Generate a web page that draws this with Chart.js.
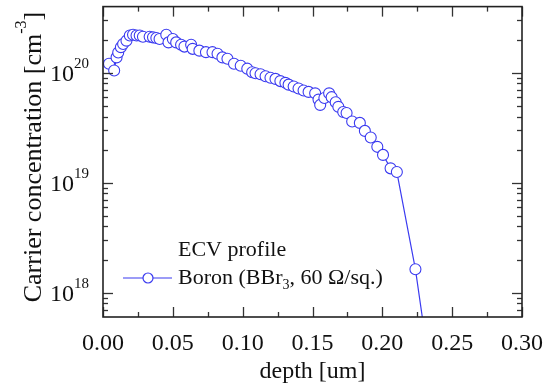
<!DOCTYPE html>
<html><head><meta charset="utf-8">
<script src="https://cdn.jsdelivr.net/npm/chart.js@4/dist/chart.umd.min.js"></script>
<style>html,body{margin:0;padding:0;background:#fff;}#wrap{width:555px;height:387px;}</style>
</head><body><div id="wrap"><canvas id="c" width="555" height="387"></canvas></div>
<script>
// depth [um]
const depth = [0.0043,0.0080,0.0097,0.0109,0.0128,0.0144,0.0168,0.0192,0.0215,0.0240,0.0263,0.0286,0.0334,0.0358,0.0382,0.0405,0.0453,0.0469,0.0500,0.0524,0.0559,0.0583,0.0631,0.0642,0.0690,0.0737,0.0784,0.0820,0.0855,0.0891,0.0938,0.0986,0.1033,0.1068,0.1092,0.1128,0.1164,0.1199,0.1235,0.1270,0.1306,0.1329,0.1365,0.1400,0.1436,0.1472,0.1519,0.1543,0.1555,0.1585,0.1619,0.1637,0.1666,0.1685,0.1720,0.1744,0.1784,0.1839,0.1875,0.1917,0.1964,0.2005,0.2059,0.2104,0.2237,0.2320];
// carrier concentration [cm^-3]
const conc = [1.21e20,1.05e20,1.38e20,1.53e20,1.71e20,1.83e20,1.96e20,2.18e20,2.22e20,2.18e20,2.18e20,2.13e20,2.13e20,2.10e20,2.07e20,2.03e20,2.22e20,1.89e20,2.03e20,1.89e20,1.80e20,1.73e20,1.80e20,1.65e20,1.59e20,1.54e20,1.54e20,1.49e20,1.38e20,1.34e20,1.21e20,1.16e20,1.09e20,1.01e20,9.9e19,9.7e19,9.3e19,9.0e19,8.8e19,8.4e19,8.1e19,7.8e19,7.5e19,7.2e19,6.9e19,6.7e19,6.5e19,5.7e19,5.1e19,5.9e19,6.5e19,6.0e19,5.4e19,4.9e19,4.4e19,4.3e19,3.6e19,3.5e19,2.96e19,2.58e19,2.12e19,1.79e19,1.35e19,1.25e19,1.63e18,3.0e17];
const xMajorTicks = [0,0.05,0.10,0.15,0.20,0.25,0.30];
const xMinorTicks = [0.025,0.075,0.125,0.175,0.225,0.275];
const yDecades = [1e18,1e19,1e20];
const yDecadeExp = ['18','19','20'];
const yMinorMult = [2,3,4,5,6,7,8,9];
const legendTitle = 'ECV profile';
const seriesName = ['Boron (BBr', '3', ', 60 \u03A9/sq.)'];
const xTitle = 'depth [um]';
const yTitle = ['Carrier concentration [cm', '-3', ']'];

const FONT = '"Liberation Serif", "Times New Roman", serif';
const BLUE = '#3b3bf0';
const points = depth.map((d,i)=>({x:d,y:conc[i]}));

const decor = {
  id:'decor',
  afterDraw(chart){
    const {ctx, chartArea:a, scales:{x,y}} = chart;
    ctx.save();
    const seg=(x1,y1,x2,y2)=>{ctx.beginPath();ctx.moveTo(x1,y1);ctx.lineTo(x2,y2);ctx.stroke();};
    ctx.strokeStyle='#333'; ctx.lineWidth=1.3;
    xMajorTicks.forEach(v=>{const p=Math.round(x.getPixelForValue(v))+0.5; seg(p,a.bottom,p,a.bottom-10); seg(p,a.top,p,a.top+10);});
    xMinorTicks.forEach(v=>{const p=Math.round(x.getPixelForValue(v))+0.5; seg(p,a.bottom,p,a.bottom-5); seg(p,a.top,p,a.top+5);});
    const yMin=y.min, yMax=y.max;
    [1e17].concat(yDecades).forEach(dv=>{
      if(dv>=yMin && dv<=yMax){const p=Math.round(y.getPixelForValue(dv))+0.5; seg(a.left,p,a.left+10,p); seg(a.right,p,a.right-10,p);}
      yMinorMult.forEach(m=>{const v=dv*m; if(v>yMin && v<yMax){const p=Math.round(y.getPixelForValue(v))+0.5; seg(a.left,p,a.left+5,p); seg(a.right,p,a.right-5,p);}});
    });
    ctx.strokeStyle='#222'; ctx.lineWidth=1.6;
    ctx.strokeRect(a.left, a.top, a.right-a.left, a.bottom-a.top);
    // y tick labels
    ctx.fillStyle='#111'; ctx.textBaseline='middle';
    yDecades.forEach((dv,i)=>{
      const p=y.getPixelForValue(dv);
      ctx.font='15px '+FONT; const ew=ctx.measureText(yDecadeExp[i]).width;
      const right=89;
      ctx.textAlign='left';
      ctx.fillText(yDecadeExp[i], right-ew, p-9);
      ctx.font='24px '+FONT; ctx.textAlign='right';
      ctx.fillText('10', right-ew, p+2);
    });
    // y title
    ctx.save();
    ctx.translate(34, 157); ctx.rotate(-Math.PI/2);
    ctx.font='26px '+FONT;
    const w1=ctx.measureText(yTitle[0]).width;
    ctx.font='16px '+FONT; const w2=ctx.measureText(yTitle[1]).width;
    ctx.font='26px '+FONT; const w3=ctx.measureText(yTitle[2]).width;
    let sx=-(w1+w2+w3)/2;
    ctx.textAlign='left'; ctx.textBaseline='middle';
    ctx.fillText(yTitle[0], sx, 0); sx+=w1;
    ctx.font='16px '+FONT; ctx.fillText(yTitle[1], sx, -12); sx+=w2;
    ctx.font='26px '+FONT; ctx.fillText(yTitle[2], sx, 0);
    ctx.restore();
    // legend
    ctx.font='22px '+FONT; ctx.textAlign='left'; ctx.textBaseline='middle';
    ctx.fillText(legendTitle, 178, 250);
    ctx.strokeStyle=BLUE; ctx.lineWidth=1.2;
    seg(123,278,172,278);
    ctx.beginPath(); ctx.arc(148,278,5,0,Math.PI*2); ctx.fillStyle='#fff'; ctx.fill(); ctx.stroke();
    ctx.fillStyle='#111';
    let lx=178;
    ctx.fillText(seriesName[0], lx, 278); lx+=ctx.measureText(seriesName[0]).width;
    ctx.font='14px '+FONT; ctx.fillText(seriesName[1], lx, 285); lx+=ctx.measureText(seriesName[1]).width;
    ctx.font='22px '+FONT; ctx.fillText(seriesName[2], lx, 278);
    ctx.restore();
  }
};

new Chart(document.getElementById('c'), {
  type:'scatter',
  data:{datasets:[{label:'Boron', data:points, showLine:true, borderColor:BLUE, borderWidth:1.2,
    pointRadius:5.5, pointBackgroundColor:'#fff', pointBorderColor:BLUE, pointBorderWidth:1.1, tension:0}]},
  options:{
    responsive:false, animation:false, devicePixelRatio:1,
    layout:{padding:{left:0,right:30,top:6,bottom:0}},
    plugins:{legend:{display:false}, tooltip:{enabled:false}},
    scales:{
      x:{type:'linear', min:0, max:0.3,
        afterBuildTicks:s=>{s.ticks=xMajorTicks.map(v=>({value:v}));},
        ticks:{callback:v=>Number(v).toFixed(2), font:{family:FONT,size:24}, color:'#111', padding:12, maxRotation:0, autoSkip:false},
        grid:{display:false, drawTicks:false}, border:{display:false},
        title:{display:true, text:xTitle, font:{family:FONT,size:24}, color:'#111', padding:{top:0,bottom:1}},
        afterFit:s=>{s.height=70;}
      },
      y:{type:'logarithmic', min:6e17, max:4e20,
        ticks:{display:false}, grid:{display:false, drawTicks:false}, border:{display:false},
        afterFit:s=>{s.width=103;}
      }
    }
  },
  plugins:[decor]
});
</script></body></html>
